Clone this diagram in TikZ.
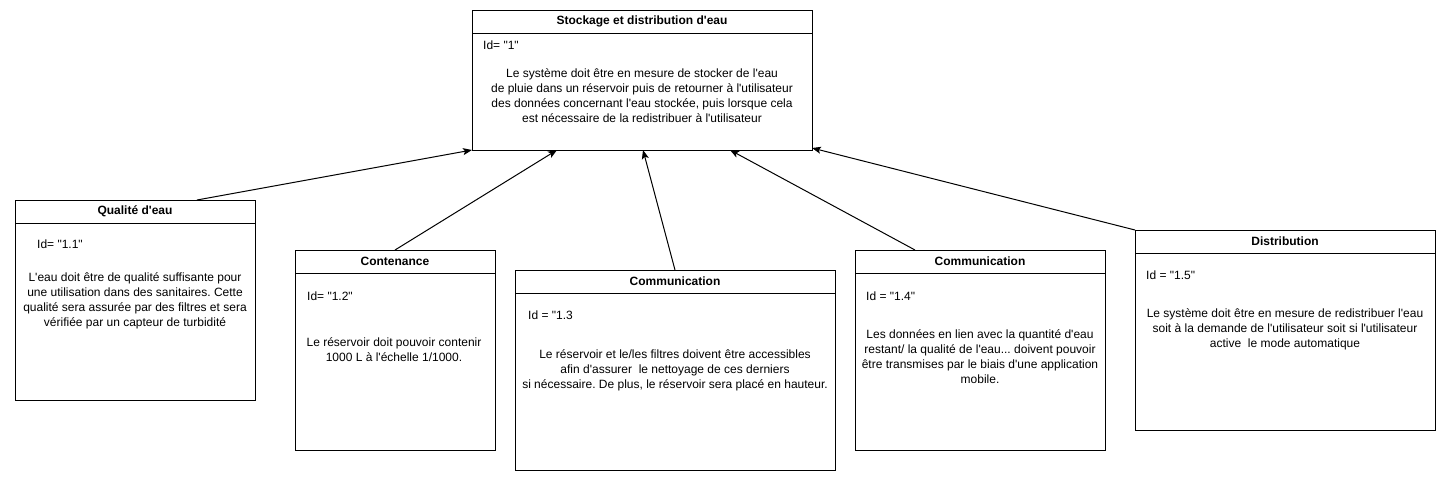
\documentclass[tikz,border=0pt]{standalone}
\usepackage{fontspec}
\setmainfont{Liberation Sans}
\usetikzlibrary{arrows.meta,calc}
\newcommand{\qq}{\textquotesingle}
\newcommand{\dq}{\textquotedbl}
\frenchspacing
\begin{document}
\begin{tikzpicture}[x=1pt,y=-1pt,
  lane/.style={draw, line width=1pt, anchor=north west, inner sep=0pt, outer sep=0pt},
  ttl/.style={font=\fontsize{12}{14.5}\selectfont\bfseries, inner sep=0pt, anchor=center},
  idt/.style={font=\fontsize{12}{14.5}\selectfont, inner sep=0pt, anchor=west},
  bod/.style={font=\fontsize{12}{15}\selectfont, inner sep=0pt, align=center, anchor=center},
  arr/.style={line width=1pt, -{Stealth[length=9pt,width=7pt,inset=2pt]}}]
\useasboundingbox (0,0) rectangle (1446,482);
\fill[white] (0,0) rectangle (1446,482);

% top box
\node[lane, minimum width=340pt, minimum height=140pt] (top) at (472,10) {};
\draw[line width=1pt] (472,33) -- (812,33);
\node[ttl] (topt) at (642,21.5) {Stockage et distribution d\qq eau};
\node[idt] (topi) at (483,45) {Id= \dq 1\dq};
\node[bod] (topb) at (642,95.5) {Le système doit être en mesure de stocker de l\qq eau\\de pluie dans un réservoir puis de retourner à l\qq utilisateur\\des données concernant l\qq eau stockée, puis lorsque cela\\est nécessaire de la redistribuer à l\qq utilisateur};

% box 1.1
\node[lane, minimum width=240pt, minimum height=200pt] (q) at (15,200) {};
\draw[line width=1pt] (15,223) -- (255,223);
\node[ttl] (qt) at (135,211.5) {Qualité d\qq eau};
\node[idt] (qi) at (37,244) {Id= \dq 1.1\dq};
\node[bod] (qb) at (135,301) {L\qq eau doit être de qualité suffisante pour\\une utilisation dans des sanitaires. Cette\\qualité sera assurée par des filtres et sera\\vérifiée par un capteur de turbidité};

% box 1.2
\node[lane, minimum width=200pt, minimum height=200pt] (c) at (295,250) {};
\draw[line width=1pt] (295,273) -- (495,273);
\node[ttl] (ct) at (395,261.5) {Contenance};
\node[idt] (ci) at (307,296) {Id= \dq 1.2\dq};
\node[bod] (cb) at (394,349.5) {Le réservoir doit pouvoir contenir\\1000 L à l\qq échelle 1/1000.};

% box 1.3
\node[lane, minimum width=320pt, minimum height=200pt] (m) at (515,270) {};
\draw[line width=1pt] (515,293) -- (835,293);
\node[ttl] (mt) at (675,281.5) {Communication};
\node[idt] (mi) at (528,315) {Id = \dq 1.3};
\node[bod] (mb) at (675,370) {Le réservoir et le/les filtres doivent être accessibles\\afin d\qq assurer\ \ le nettoyage de ces derniers\\si nécessaire. De plus, le réservoir sera placé en hauteur.};

% box 1.4
\node[lane, minimum width=250pt, minimum height=200pt] (n) at (855,250) {};
\draw[line width=1pt] (855,273) -- (1105,273);
\node[ttl] (nt) at (980,261.5) {Communication};
\node[idt] (ni) at (866,296) {Id = \dq 1.4\dq};
\node[bod] (nb) at (980,356.5) {Les données en lien avec la quantité d\qq eau\\restant/ la qualité de l\qq eau... doivent pouvoir\\être transmises par le biais d\qq une application\\mobile.};

% box 1.5
\node[lane, minimum width=300pt, minimum height=200pt] (d) at (1135,230) {};
\draw[line width=1pt] (1135,253) -- (1435,253);
\node[ttl] (dt) at (1285,241.5) {Distribution};
\node[idt] (di) at (1146,275) {Id = \dq 1.5\dq};
\node[bod] (db) at (1285,329) {Le système doit être en mesure de redistribuer l\qq eau\\soit à la demande de l\qq utilisateur soit si l\qq utilisateur\\active\ \ le mode automatique};

% connectors
\draw[arr] ([xshift=62pt]q.north) -- (top.south west);
\draw[arr] (c.north) -- ([xshift=85pt]top.south west);
\draw[arr] (m.north) -- ([xshift=171pt]top.south west);
\draw[arr] ([xshift=60pt]n.north west) -- ([xshift=258pt]top.south west);
\draw[arr] (d.north west) -- ([yshift=2pt]top.south east);
\end{tikzpicture}
\end{document}
